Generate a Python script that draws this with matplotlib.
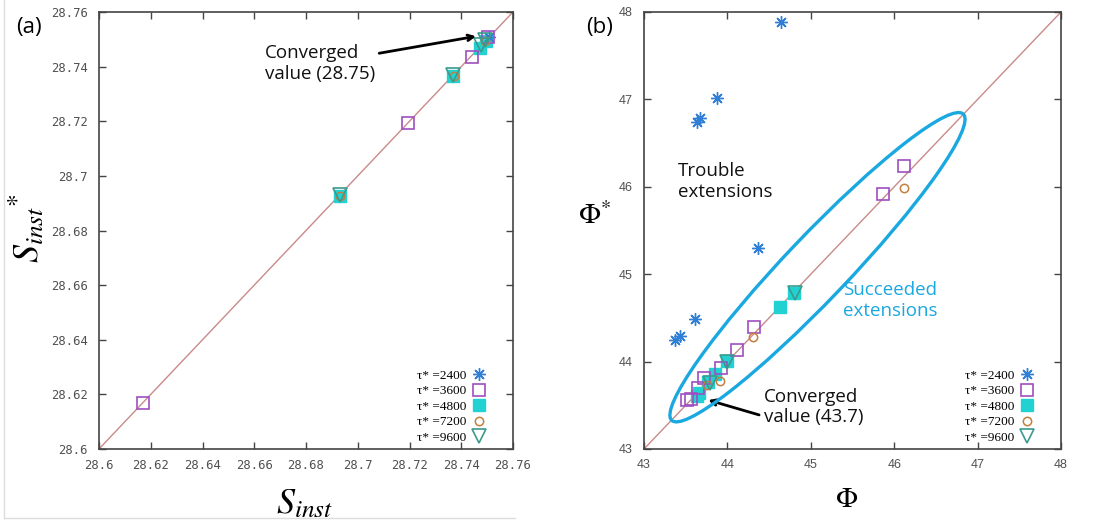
import matplotlib
matplotlib.use("Agg")
import matplotlib.pyplot as plt
from matplotlib.patches import Ellipse
from matplotlib.lines import Line2D
from matplotlib.ticker import FuncFormatter

plt.rcParams['mathtext.fontset'] = 'stix'

# ---- panel (a) data: S_inst vs S_inst*
a_2400_x = [28.7507]
a_2400_y = [28.7510]
a_3600_x = [28.617, 28.7195, 28.744, 28.7505]
a_3600_y = [28.617, 28.7192, 28.7437, 28.7508]
a_4800_x = [28.693, 28.737, 28.7473, 28.7495]
a_4800_y = [28.6925, 28.7365, 28.7470, 28.7495]
a_7200_x = [28.6932, 28.7373, 28.7492]
a_7200_y = [28.6927, 28.7367, 28.7492]
a_9600_x = [28.693, 28.737, 28.7475, 28.7492]
a_9600_y = [28.693, 28.737, 28.7478, 28.7496]

# ---- panel (b) data: Phi vs Phi*
b_2400_x = [44.64, 43.87, 43.67, 43.64, 44.37, 43.61, 43.43, 43.37]
b_2400_y = [47.88, 47.02, 46.79, 46.74, 45.30, 44.49, 44.29, 44.25]
b_3600_x = [46.12, 45.86, 44.32, 44.12, 43.92, 43.72, 43.65, 43.56, 43.52]
b_3600_y = [46.24, 45.92, 44.40, 44.13, 43.93, 43.81, 43.70, 43.57, 43.56]
b_4800_x = [44.80, 44.63, 44.00, 43.85, 43.77, 43.66, 43.63]
b_4800_y = [44.79, 44.63, 44.01, 43.86, 43.77, 43.64, 43.61]
b_7200_x = [46.12, 44.31, 43.91, 43.76]
b_7200_y = [45.99, 44.28, 43.78, 43.73]
b_9600_x = [44.81, 44.00, 43.79]
b_9600_y = [44.78, 44.00, 43.75]

labels = ['τ* =2400', 'τ* =3600', 'τ* =4800', 'τ* =7200', 'τ* =9600']

c_star = '#2f7fd6'
c_sq = '#a04ec0'
c_fill = '#22d2d2'
c_circ = '#c47e3e'
c_tri = '#3a9a8c'
c_ell = '#1aa8e0'
c_diag = '#c98a8a'
c_axis = '#444444'

W, H = 1097, 522
fig = plt.figure(figsize=(W / 100, H / 100), dpi=100)

ax1 = fig.add_axes([99 / W, 1 - 449 / H, 414 / W, 437 / H])
ax2 = fig.add_axes([644 / W, 1 - 449 / H, 417 / W, 437 / H])


def style(ax, lo, hi, step, fontfam, fs):
    ax.set_xlim(lo, hi)
    ax.set_ylim(lo, hi)
    ticks = [lo + i * step for i in range(int(round((hi - lo) / step)) + 1)]
    ax.set_xticks(ticks)
    ax.set_yticks(ticks)
    fmt = FuncFormatter(lambda v, p: '{:g}'.format(round(v, 2)))
    ax.xaxis.set_major_formatter(fmt)
    ax.yaxis.set_major_formatter(fmt)
    for s in ax.spines.values():
        s.set_color(c_axis)
        s.set_linewidth(1.2)
    ax.tick_params(direction='in', length=5, width=1, color=c_axis,
                   top=True, right=True, labelcolor='#505050', labelsize=fs)
    ax.tick_params(axis='x', pad=7)
    ax.tick_params(axis='y', pad=8)
    for lab in ax.get_xticklabels() + ax.get_yticklabels():
        lab.set_family(fontfam)
    ax.plot([lo, hi], [lo, hi], color=c_diag, lw=1, zorder=1)


def series(ax, xs, ys, ms):
    ax.plot(xs[0], ys[0], ls='none', marker=(8, 2, 0), ms=ms + 1, mec=c_star,
            mew=1, label=labels[0], zorder=3)
    ax.plot(xs[1], ys[1], ls='none', marker='s', ms=ms, mfc='none', mec=c_sq,
            mew=1.2, label=labels[1], zorder=3)
    ax.plot(xs[2], ys[2], ls='none', marker='s', ms=ms, mfc=c_fill, mec=c_fill,
            label=labels[2], zorder=2)
    ax.plot(xs[3], ys[3], ls='none', marker='o', ms=ms - 2, mfc='none', mec=c_circ,
            mew=1.1, label=labels[3], zorder=3)
    ax.plot(xs[4], ys[4], ls='none', marker='v', ms=ms + 2, mfc='none', mec=c_tri,
            mew=1.2, label=labels[4], zorder=3)
    ax.legend(loc='lower right', bbox_to_anchor=(0.935, 0.012), frameon=False,
              markerfirst=False, borderpad=0, borderaxespad=0, handlelength=1.0,
              handletextpad=0.5, labelspacing=0.25, numpoints=1,
              prop={'family': 'Liberation Serif', 'size': 9.5})


txt = dict(fontsize=13.5, family='Open Sans', va='center', ha='left')
arr = dict(arrowstyle='->', color='black', lw=2, shrinkA=0, shrinkB=0)

# ---------------- panel (a)
style(ax1, 28.6, 28.76, 0.02, 'DejaVu Sans Mono', 8.8)
series(ax1, [a_2400_x, a_3600_x, a_4800_x, a_7200_x, a_9600_x],
       [a_2400_y, a_3600_y, a_4800_y, a_7200_y, a_9600_y], 8)

ax1.text(28.664, 28.7412, 'Converged\nvalue (28.75)', color='#111111', **txt)
ax1.annotate('', xy=(28.7457, 28.7511), xytext=(28.7083, 28.7449), arrowprops=arr)

# ---------------- panel (b)
style(ax2, 43, 48, 1, 'Liberation Sans', 9)
series(ax2, [b_2400_x, b_3600_x, b_4800_x, b_7200_x, b_9600_x],
       [b_2400_y, b_3600_y, b_4800_y, b_7200_y, b_9600_y], 8)

ax2.add_patch(Ellipse((45.08, 45.08), 4.95, 0.74, angle=45, fill=False,
                      ec=c_ell, lw=2.4, zorder=4))
ax2.text(43.405, 46.06, 'Trouble\nextensions', color='#111111', **txt)
ax2.text(45.39, 44.70, 'Succeeded\nextensions', color=c_ell, **txt)
ax2.text(44.44, 43.48, 'Converged\nvalue (43.7)', color='#111111', **txt)
ax2.annotate('', xy=(43.77, 43.56), xytext=(44.38, 43.39), arrowprops=arr)

# ---------------- figure-level labels
fig.text(305 / W, 1 - 503 / H, r'$S_{inst}$', fontsize=26, ha='center', va='center')
fig.text(27 / W, 1 - 228 / H, r'$S_{inst}{}^{*}$', fontsize=26, ha='center',
         va='center', rotation=90)
fig.text(847 / W, 1 - 499 / H, r'$\Phi$', fontsize=21, ha='center', va='center')
fig.text(595 / W, 1 - 216 / H, r'$\Phi^{*}$', fontsize=21, ha='center', va='center')
fig.text(29 / W, 1 - 28 / H, '(a)', fontsize=16, family='Open Sans',
         ha='center', va='center')
fig.text(600 / W, 1 - 27 / H, '(b)', fontsize=16, family='Open Sans',
         ha='center', va='center')

# faint frame of the left sub-image
fig.add_artist(Line2D([4 / W, 4 / W], [1 - 518 / H, 1], color='#dddddd', lw=1))
fig.add_artist(Line2D([4 / W, 515 / W], [1 - 518 / H, 1 - 518 / H], color='#dddddd', lw=1))

fig.savefig('out.png', dpi=100)
